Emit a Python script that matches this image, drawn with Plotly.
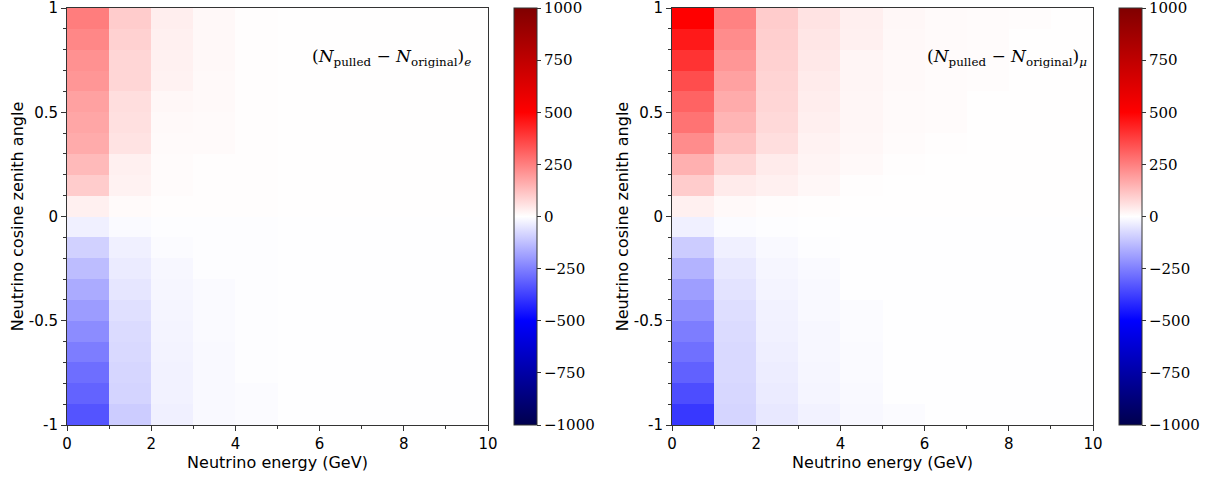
import plotly.graph_objects as go

# Energy bins (GeV) and cos(zenith) bins
energy_centers = [0.5, 1.5, 2.5, 3.5, 4.5, 5.5, 6.5, 7.5, 8.5, 9.5]
cosz_centers = [0.95, 0.85, 0.75, 0.65, 0.55, 0.45, 0.35, 0.25, 0.15, 0.05,
                -0.05, -0.15, -0.25, -0.35, -0.45, -0.55, -0.65, -0.75, -0.85, -0.95]

# (N_pulled - N_original) for electron events, one list per energy bin (cosz from +0.95 down to -0.95)
e_col0 = [255, 235, 215, 205, 185, 175, 165, 135, 100, 30, -30, -90, -130, -165, -195, -225, -255, -285, -305, -335]
e_col1 = [100, 90, 80, 80, 65, 60, 55, 30, 25, 10, -10, -30, -40, -50, -60, -70, -75, -80, -85, -100]
e_col2 = [33, 30, 28, 25, 15, 12, 10, 8, 8, 3, -3, -8, -15, -18, -20, -22, -24, -25, -25, -30]
e_col3 = [14, 14, 13, 12, 11, 10, 9, 3, 3, 3, -3, -3, -3, -10, -10, -10, -11, -11, -12, -12]
e_col4 = [3, 3, 3, 3, 3, 3, 3, 3, 3, 3, -3, -3, -3, -3, -3, -3, -3, -3, -8, -8]
e_col5 = [2, 2, 2, 2, 2, 2, 2, 2, 2, 2, -2, -2, -2, -2, -2, -2, -2, -2, -2, -2]
e_col6 = [2, 2, 2, 2, 2, 2, 2, 2, 2, 2, -2, -2, -2, -2, -2, -2, -2, -2, -2, -2]
e_col7 = [2, 2, 2, 2, 2, 2, 2, 2, 2, 2, -2, -2, -2, -2, -2, -2, -2, -2, -2, -2]
e_col8 = [2, 2, 2, 2, 2, 2, 2, 2, 2, 2, -2, -2, -2, -2, -2, -2, -2, -2, -2, -2]
e_col9 = [2, 2, 2, 2, 2, 2, 2, 2, 2, 2, -2, -2, -2, -2, -2, -2, -2, -2, -2, -2]

# (N_pulled - N_original) for muon events
mu_col0 = [500, 450, 400, 350, 305, 275, 225, 155, 100, 30, -30, -100, -150, -190, -220, -255, -280, -310, -350, -390]
mu_col1 = [245, 225, 205, 185, 165, 145, 120, 80, 40, 12, -8, -30, -45, -55, -65, -70, -75, -75, -78, -82]
mu_col2 = [100, 95, 90, 85, 80, 75, 65, 40, 30, 5, -3, -12, -18, -22, -25, -28, -32, -36, -40, -45]
mu_col3 = [55, 50, 45, 40, 35, 32, 25, 22, 15, 3, -2, -3, -10, -12, -12, -15, -15, -17, -20, -25]
mu_col4 = [32, 30, 20, 20, 18, 18, 15, 12, 3, 2, -2, -2, -2, -2, -8, -8, -10, -10, -12, -14]
mu_col5 = [15, 14, 12, 12, 10, 10, 8, 3, 2, 2, -2, -2, -2, -2, -2, -2, -2, -2, -2, -8]
mu_col6 = [10, 9, 8, 8, 7, 7, 3, 2, 2, 2, -2, -2, -2, -2, -2, -2, -2, -2, -2, -2]
mu_col7 = [8, 7, 6, 6, 2, 2, 2, 2, 2, 2, -2, -2, -2, -2, -2, -2, -2, -2, -2, -2]
mu_col8 = [6, 2, 2, 2, 2, 2, 2, 2, 2, 2, -2, -2, -2, -2, -2, -2, -2, -2, -2, -2]
mu_col9 = [2, 2, 2, 2, 2, 2, 2, 2, 2, 2, -2, -2, -2, -2, -2, -2, -2, -2, -2, -2]

cbar_ticks = [-1000, -750, -500, -250, 0, 250, 500, 750, 1000]
cbar_text = ["\u22121000", "\u2212750", "\u2212500", "\u2212250", "0", "250", "500", "750", "1000"]
x_ticks = [0, 2, 4, 6, 8, 10]
y_ticks = [-1, -0.5, 0, 0.5, 1]
y_text = ["-1", "-0.5", "0", "0.5", "1"]

e_cols = [e_col0, e_col1, e_col2, e_col3, e_col4, e_col5, e_col6, e_col7, e_col8, e_col9]
mu_cols = [mu_col0, mu_col1, mu_col2, mu_col3, mu_col4, mu_col5, mu_col6, mu_col7, mu_col8, mu_col9]


def to_rows(cols):
    return [[c[i] for c in cols] for i in range(len(cosz_centers))]


# matplotlib "seismic"
seismic = [[0.0, "rgb(0,0,77)"], [0.25, "rgb(0,0,255)"], [0.5, "rgb(255,255,255)"],
           [0.75, "rgb(255,0,0)"], [1.0, "rgb(128,0,0)"]]

W, H = 1219, 478
plot_top, plot_bot = 8, 425
left_x0, left_x1 = 67, 488
right_x0, right_x1 = 672, 1093
cb_left, cb_right = 514, 1119

sans = "DejaVu Sans"
serif = "DejaVu Serif"


def cbar(xpix):
    return dict(
        x=xpix / W, xanchor="left", xref="paper",
        y=1 - plot_bot / H, yanchor="bottom",
        len=plot_bot - plot_top, lenmode="pixels",
        thickness=23, thicknessmode="pixels",
        outlinewidth=1, outlinecolor="#333",
        tickvals=cbar_ticks, ticktext=cbar_text,
        ticks="outside", ticklen=4, tickcolor="#333",
        tickfont=dict(family=serif, size=15, color="black"),
        ticklabeloverflow="allow",
        xpad=0, ypad=0,
    )


fig = go.Figure()
fig.add_trace(go.Heatmap(
    x=energy_centers, y=cosz_centers, z=to_rows(e_cols),
    colorscale=seismic, zmin=-1000, zmax=1000,
    colorbar=cbar(cb_left), xaxis="x", yaxis="y",
))
fig.add_trace(go.Heatmap(
    x=energy_centers, y=cosz_centers, z=to_rows(mu_cols),
    colorscale=seismic, zmin=-1000, zmax=1000,
    colorbar=cbar(cb_right), xaxis="x2", yaxis="y2",
))

xaxis_common = dict(
    range=[0, 10], tickvals=x_ticks, ticks="outside", ticklen=5, tickcolor="#333",
    showline=True, linecolor="#333", linewidth=1, mirror=True, showgrid=False, zeroline=False,
    tickfont=dict(family=sans, size=15, color="black"), ticklabeloverflow="allow",
    minor=dict(dtick=1, ticks="outside", ticklen=3, tickcolor="#333"),
    title=dict(text="Neutrino energy (GeV)", font=dict(family=sans, size=16, color="black"), standoff=0),
)
yaxis_common = dict(
    range=[-1, 1], tickvals=y_ticks, ticktext=y_text, ticks="outside", ticklen=5,
    tickcolor="#333",
    showline=True, linecolor="#333", linewidth=1, mirror=True, showgrid=False, zeroline=False,
    tickfont=dict(family=sans, size=15, color="black"), ticklabeloverflow="allow",
    minor=dict(dtick=0.1, tick0=0, ticks="outside", ticklen=3, tickcolor="#333"),
    title=dict(text="Neutrino cosine zenith angle", font=dict(family=sans, size=16, color="black"), standoff=1),
)

ydom = [1 - plot_bot / H, 1 - plot_top / H]
fig.update_layout(
    width=W, height=H,
    margin=dict(l=0, r=0, t=0, b=0, autoexpand=False),
    paper_bgcolor="white", plot_bgcolor="white",
    xaxis=dict(xaxis_common, domain=[left_x0 / W, left_x1 / W], anchor="y"),
    yaxis=dict(yaxis_common, domain=ydom, anchor="x"),
    xaxis2=dict(xaxis_common, domain=[right_x0 / W, right_x1 / W], anchor="y2"),
    yaxis2=dict(yaxis_common, domain=ydom, anchor="x2"),
    annotations=[
        dict(text="(<i>N</i><sub>pulled</sub> \u2212 <i>N</i><sub>original</sub>)<sub><i>e</i></sub>",
             xref="x", yref="y", x=9.65, y=0.765, xanchor="right", yanchor="middle",
             showarrow=False, font=dict(family=serif, size=17, color="black")),
        dict(text="(<i>N</i><sub>pulled</sub> \u2212 <i>N</i><sub>original</sub>)<sub><i>\u03bc</i></sub>",
             xref="x2", yref="y2", x=9.9, y=0.765, xanchor="right", yanchor="middle",
             showarrow=False, font=dict(family=serif, size=17, color="black")),
    ],
)

fig.write_html("out.html")
